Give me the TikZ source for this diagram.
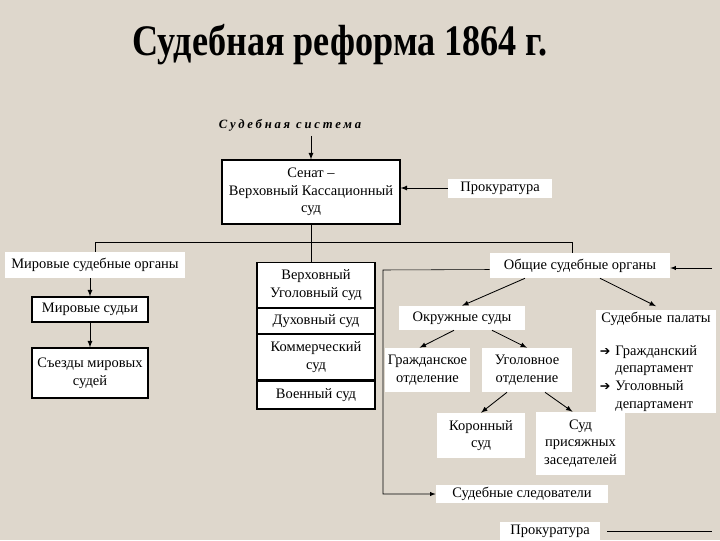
\documentclass[tikz,border=0pt]{standalone}
\usepackage{fontspec}
\setmainfont{Liberation Serif}
\newfontfamily\symfont{DejaVu Sans}
\usepackage{tikz}
\usetikzlibrary{shadows}

\definecolor{paper}{RGB}{222,215,204}
\newcommand{\darr}{{\symfont\small ➔}}

\begin{document}
\begin{tikzpicture}[x=0.025cm, y=-0.025cm,
      font=\fontsize{10.3}{12.5}\selectfont,
      >=latex,
      box/.style={draw=black,fill=white,thick,align=center,inner sep=1pt,
                  drop shadow={shadow xshift=1pt,shadow yshift=-1pt,fill=black!70,opacity=0.7}},
      cell/.style={box,minimum width=2.95cm,anchor=north},
      lbl/.style={fill=white,align=center,inner sep=1pt},
      link/.style={->,semithick},
      trunk/.style={thick}
]
      % background
      \fill[paper] (0,0) rectangle (720,540);

      \node[font=\fontsize{31}{31}\selectfont\bfseries] at (340,45) (title)
            {\scalebox{0.83}[1]{Судебная реформа 1864 г.}};
      \node[font=\fontsize{9}{10}\selectfont\bfseries\itshape\addfontfeature{LetterSpace=22}]
            at (290,125) (sys) {Судебная система};

      % top
      \node[box,minimum width=4.45cm,minimum height=1.6cm] at (311,192) (senat)
            {Сенат –\\Верховный Кассационный\\суд};
      \node[lbl,minimum width=2.6cm,minimum height=0.475cm] at (500,188) (prok1) {Прокуратура};

      % left branch
      \node[lbl,minimum width=4.5cm,minimum height=0.65cm] at (95,265) (mirorg) {Мировые судебные органы};
      \node[box,minimum width=2.9cm,minimum height=0.625cm] at (90,309.5) (mirsud) {Мировые судьи};
      \node[box,minimum width=2.9cm,minimum height=1.25cm] at (90,373) (sezdy) {Съезды мировых\\судей};

      % middle stack
      \node[cell,minimum height=1.125cm] at (316,262) (vug) {Верховный\\Уголовный суд};
      \node[cell,minimum height=0.625cm] at (vug.south) (dukh) {Духовный суд};
      \node[cell,minimum height=1.125cm] at (dukh.south) (komm) {Коммерческий\\суд};
      \node[cell,minimum height=0.7cm] at (komm.south) (voen) {Военный суд};

      % right branch
      \node[lbl,minimum width=4.5cm,minimum height=0.625cm] at (580,265.5) (obsh) {Общие судебные органы};
      \node[lbl,minimum width=3.125cm,minimum height=0.6cm] at (462,318) (okr) {Окружные суды};
      \node[lbl,minimum width=3cm,minimum height=2.525cm,text width=2.8cm,align=left] at (656,361.5) (palaty)
            {\makebox[\hsize]{Судебные палаты}\\[11pt]
             \darr\ Гражданский\\\hphantom{\darr\ }департамент\\
             \darr\ Уголовный\\\hphantom{\darr\ }департамент};
      \node[lbl,minimum width=2.125cm,minimum height=1.1cm] at (427.5,370) (grazh) {Гражданское\\отделение};
      \node[lbl,minimum width=2.25cm,minimum height=1.1cm] at (527,370) (ugol) {Уголовное\\отделение};
      \node[lbl,minimum width=2.2cm,minimum height=1.125cm] at (481,435.5) (koron) {Коронный\\суд};
      \node[lbl,minimum width=2.225cm,minimum height=1.575cm] at (580.5,443.5) (prisyazh) {Суд\\присяжных\\заседателей};
      \node[lbl,minimum width=4.3cm,minimum height=0.45cm] at (522,494) (sled) {Судебные следователи};
      \node[lbl,minimum width=2.5cm,minimum height=0.45cm] at (550,531) (prok2) {Прокуратура};

      \coordinate (jl) at (95,242);
      \coordinate (jr) at (572,242);
      \coordinate (brk) at (383,270);
      \coordinate (rin) at (712,268);
      \coordinate (rout) at (712,531);

      % connectors
      \draw[link] (sys.south -| senat.north) -- (senat.north);
      \draw[link] (prok1.west) -- (prok1.west -| senat.east);
      {[trunk]
          \draw (senat.south) -- (senat.south |- vug.north);
          \draw (mirorg.north -| jl) -- (jl) -- (jr) -- (jr |- obsh.north);
          \draw[->] ([yshift=-0.1cm]obsh.west) -- (brk) |- (sled.west);
          \draw[->] (rin) -- (rin -| obsh.east);
          \draw ([xshift=0.175cm]prok2.east) -- (rout);
      }
      \draw[link] (mirorg.south -| mirsud.north) -- (mirsud.north);
      \draw[link] (mirsud.south) -- (sezdy.north);
      \draw[link] ([xshift=-1.375cm]obsh.south) -- (okr.north);
      \draw[link] ([xshift=0.5cm]obsh.south) -- ([yshift=0.1cm]palaty.north);
      \draw[link] ([xshift=-0.2cm]okr.south) -- ([xshift=-0.2cm]grazh.north);
      \draw[link] ([xshift=0.75cm]okr.south) -- (ugol.north);
      \draw[link] ([xshift=-0.5cm]ugol.south) -- (koron.north);
      \draw[link] ([xshift=0.45cm]ugol.south) -- ([xshift=-0.2cm]prisyazh.north);
\end{tikzpicture}
\end{document}
